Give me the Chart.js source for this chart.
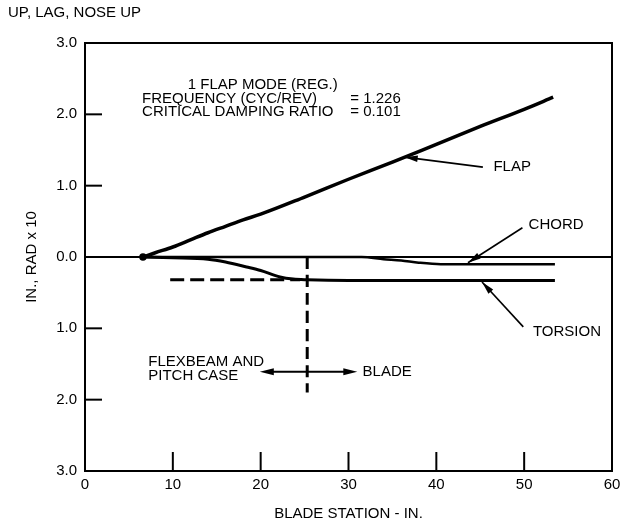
<!DOCTYPE html>
<html>
<head>
<meta charset="utf-8">
<script src="https://cdn.jsdelivr.net/npm/chart.js@4/dist/chart.umd.min.js"></script>
<style>
  html, body { margin:0; padding:0; background:#fff; }
  canvas { display:block; }
</style>
</head>
<body>
<canvas id="chart" width="632" height="526"></canvas>
<script>
// ---- values (x = blade station in., y = in./rad x 10) ----
const flapX    = [6.6, 8, 10, 12, 14, 16, 18, 20, 25, 30, 35, 40, 45, 50, 53.3];
const flapY    = [0, 0.06, 0.14, 0.24, 0.34, 0.43, 0.52, 0.60, 0.84, 1.09, 1.33, 1.58, 1.83, 2.07, 2.24];

const chordX   = [6.6, 20, 31.5, 34, 36, 38, 40.5, 53.5];
const chordY   = [0, 0, 0, -0.03, -0.05, -0.08, -0.10, -0.10];

const torsionX = [6.6, 10, 14, 16, 18.4, 20, 22.2, 23.7, 25.3, 30, 40, 53.5];
const torsionY = [0, -0.01, -0.03, -0.07, -0.14, -0.19, -0.28, -0.31, -0.32, -0.33, -0.33, -0.33];

// dashed guide lines
const dashHX   = [9.7, 24.5];
const dashHY   = [-0.32, -0.32];
const dashVX   = [25.3, 25.3];
const dashVY   = [0, -1.9];

// zero reference line
const zeroX    = [0, 60];
const zeroY    = [0, 0];

// axis ticks
const xTickValues = [0, 10, 20, 30, 40, 50, 60];
const yTickValues = [-3, -2, -1, 0, 1, 2, 3];
const yTickLabels = ["3.0", "2.0", "1.0", "0.0", "1.0", "2.0", "3.0"];

// text + arrows (in data units)
const headerLines = [
  { text: "1 FLAP MODE (REG.)",     x: 11.7, y: 2.41 },
  { text: "FREQUENCY (CYC/REV)",    x: 6.5,  y: 2.22 },
  { text: "= 1.226",                x: 30.2, y: 2.22 },
  { text: "CRITICAL DAMPING RATIO", x: 6.5,  y: 2.03 },
  { text: "= 0.101",                x: 30.2, y: 2.03 }
];
const curveLabels = [
  { text: "FLAP",         x: 46.5, y: 1.26 },
  { text: "CHORD",        x: 50.5, y: 0.45 },
  { text: "TORSION",      x: 51.0, y: -1.05 },
  { text: "FLEXBEAM AND", x: 7.2,  y: -1.47 },
  { text: "PITCH CASE",   x: 7.2,  y: -1.67 },
  { text: "BLADE",        x: 31.6, y: -1.61 }
];
const pointerArrows = [   // tail -> head
  { x1: 45.3, y1: 1.26,  x2: 36.4, y2: 1.40 },
  { x1: 49.8, y1: 0.41,  x2: 43.6, y2: -0.08 },
  { x1: 49.9, y1: -0.98, x2: 45.2, y2: -0.35 }
];
const spanArrow = { x1: 19.9, x2: 31.0, y: -1.61 };

const FONT = "Liberation Sans, Arial, Helvetica, sans-serif";
const INK  = "#000";

const pts = (xs, ys) => xs.map((x, i) => ({ x, y: ys[i] }));

// ---- small drawing helpers ----
function arrowHead(ctx, x1, y1, x2, y2, len, half){
  const a = Math.atan2(y2 - y1, x2 - x1);
  ctx.beginPath();
  ctx.moveTo(x2, y2);
  ctx.lineTo(x2 - len*Math.cos(a) + half*Math.sin(a), y2 - len*Math.sin(a) - half*Math.cos(a));
  ctx.lineTo(x2 - len*Math.cos(a) - half*Math.sin(a), y2 - len*Math.sin(a) + half*Math.cos(a));
  ctx.closePath();
  ctx.fill();
}

// frame, inward ticks, labels and arrows
const decorPlugin = {
  id: "decor",
  afterDatasetsDraw(chart){
    const { ctx, chartArea: a, scales: { x, y } } = chart;
    ctx.save();
    ctx.strokeStyle = INK; ctx.fillStyle = INK;

    // box round the plot
    ctx.lineWidth = 2;
    ctx.strokeRect(a.left, a.top, a.right - a.left, a.bottom - a.top);

    // tick marks pointing inward
    yTickValues.slice(1, -1).forEach(v => {
      const py = y.getPixelForValue(v);
      ctx.beginPath(); ctx.moveTo(a.left, py); ctx.lineTo(a.left + 17, py); ctx.stroke();
    });
    xTickValues.slice(1, -1).forEach(v => {
      const px = x.getPixelForValue(v);
      ctx.beginPath(); ctx.moveTo(px, a.bottom); ctx.lineTo(px, a.bottom - 19); ctx.stroke();
    });

    // text
    ctx.font = "15px " + FONT;
    ctx.textBaseline = "middle";
    ctx.textAlign = "left";
    [...headerLines, ...curveLabels].forEach(t => {
      ctx.fillText(t.text, x.getPixelForValue(t.x), y.getPixelForValue(t.y));
    });
    ctx.fillText("UP, LAG, NOSE UP", 8, 13);

    // pointer arrows
    ctx.lineWidth = 1.6;
    pointerArrows.forEach(p => {
      const x1 = x.getPixelForValue(p.x1), y1 = y.getPixelForValue(p.y1);
      const x2 = x.getPixelForValue(p.x2), y2 = y.getPixelForValue(p.y2);
      ctx.beginPath(); ctx.moveTo(x1, y1); ctx.lineTo(x2, y2); ctx.stroke();
      arrowHead(ctx, x1, y1, x2, y2, 13, 3.2);
    });

    // double arrow across the flexbeam / blade joint
    const sx1 = x.getPixelForValue(spanArrow.x1), sx2 = x.getPixelForValue(spanArrow.x2);
    const sy  = y.getPixelForValue(spanArrow.y);
    ctx.lineWidth = 2;
    ctx.beginPath(); ctx.moveTo(sx1 + 8, sy); ctx.lineTo(sx2 - 8, sy); ctx.stroke();
    arrowHead(ctx, sx2, sy, sx1, sy, 14, 3.5);
    arrowHead(ctx, sx1, sy, sx2, sy, 14, 3.5);

    ctx.restore();
  }
};

const line = (label, xs, ys, width, extra) => Object.assign({
  label, data: pts(xs, ys), showLine: true, borderColor: INK, backgroundColor: INK,
  borderWidth: width, pointRadius: 0, fill: false, cubicInterpolationMode: "monotone"
}, extra || {});

new Chart(document.getElementById("chart"), {
  type: "scatter",
  data: {
    datasets: [
      line("zero",    zeroX,    zeroY,    2),
      line("flap",    flapX,    flapY,    3.5, { pointRadius: c => c.dataIndex === 0 ? 2 : 0 }),
      line("chord",   chordX,   chordY,   2.5),
      line("torsion", torsionX, torsionY, 3),
      line("dashH",   dashHX,   dashHY,   3, { borderDash: [14, 6] }),
      line("dashV",   dashVX,   dashVY,   3, { borderDash: [12, 6] })
    ]
  },
  options: {
    responsive: false,
    animation: false,
    devicePixelRatio: 1,
    layout: { padding: { top: 43, right: 20, left: 0, bottom: 0 } },
    plugins: { legend: { display: false }, tooltip: { enabled: false } },
    scales: {
      x: {
        type: "linear", min: 0, max: 60,
        afterFit: s => { s.height = 55; },
        grid: { display: false, drawTicks: false },
        border: { display: false },
        ticks: { stepSize: 10, padding: 5, color: INK, font: { family: FONT, size: 15 } },
        title: { display: true, text: "BLADE STATION - IN.", color: INK,
                 font: { family: FONT, size: 15 }, padding: { top: 0, bottom: 3 } }
      },
      y: {
        type: "linear", min: -3, max: 3,
        afterFit: s => { s.width = 85; },
        grid: { display: false, drawTicks: false },
        border: { display: false },
        ticks: { stepSize: 1, padding: 8, color: INK, font: { family: FONT, size: 15 },
                 callback: v => yTickLabels[yTickValues.indexOf(v)] ?? "" },
        title: { display: true, text: "IN., RAD x 10", color: INK,
                 font: { family: FONT, size: 15 }, padding: { top: 23, bottom: 0 } }
      }
    }
  },
  plugins: [decorPlugin]
});
</script>
</body>
</html>
